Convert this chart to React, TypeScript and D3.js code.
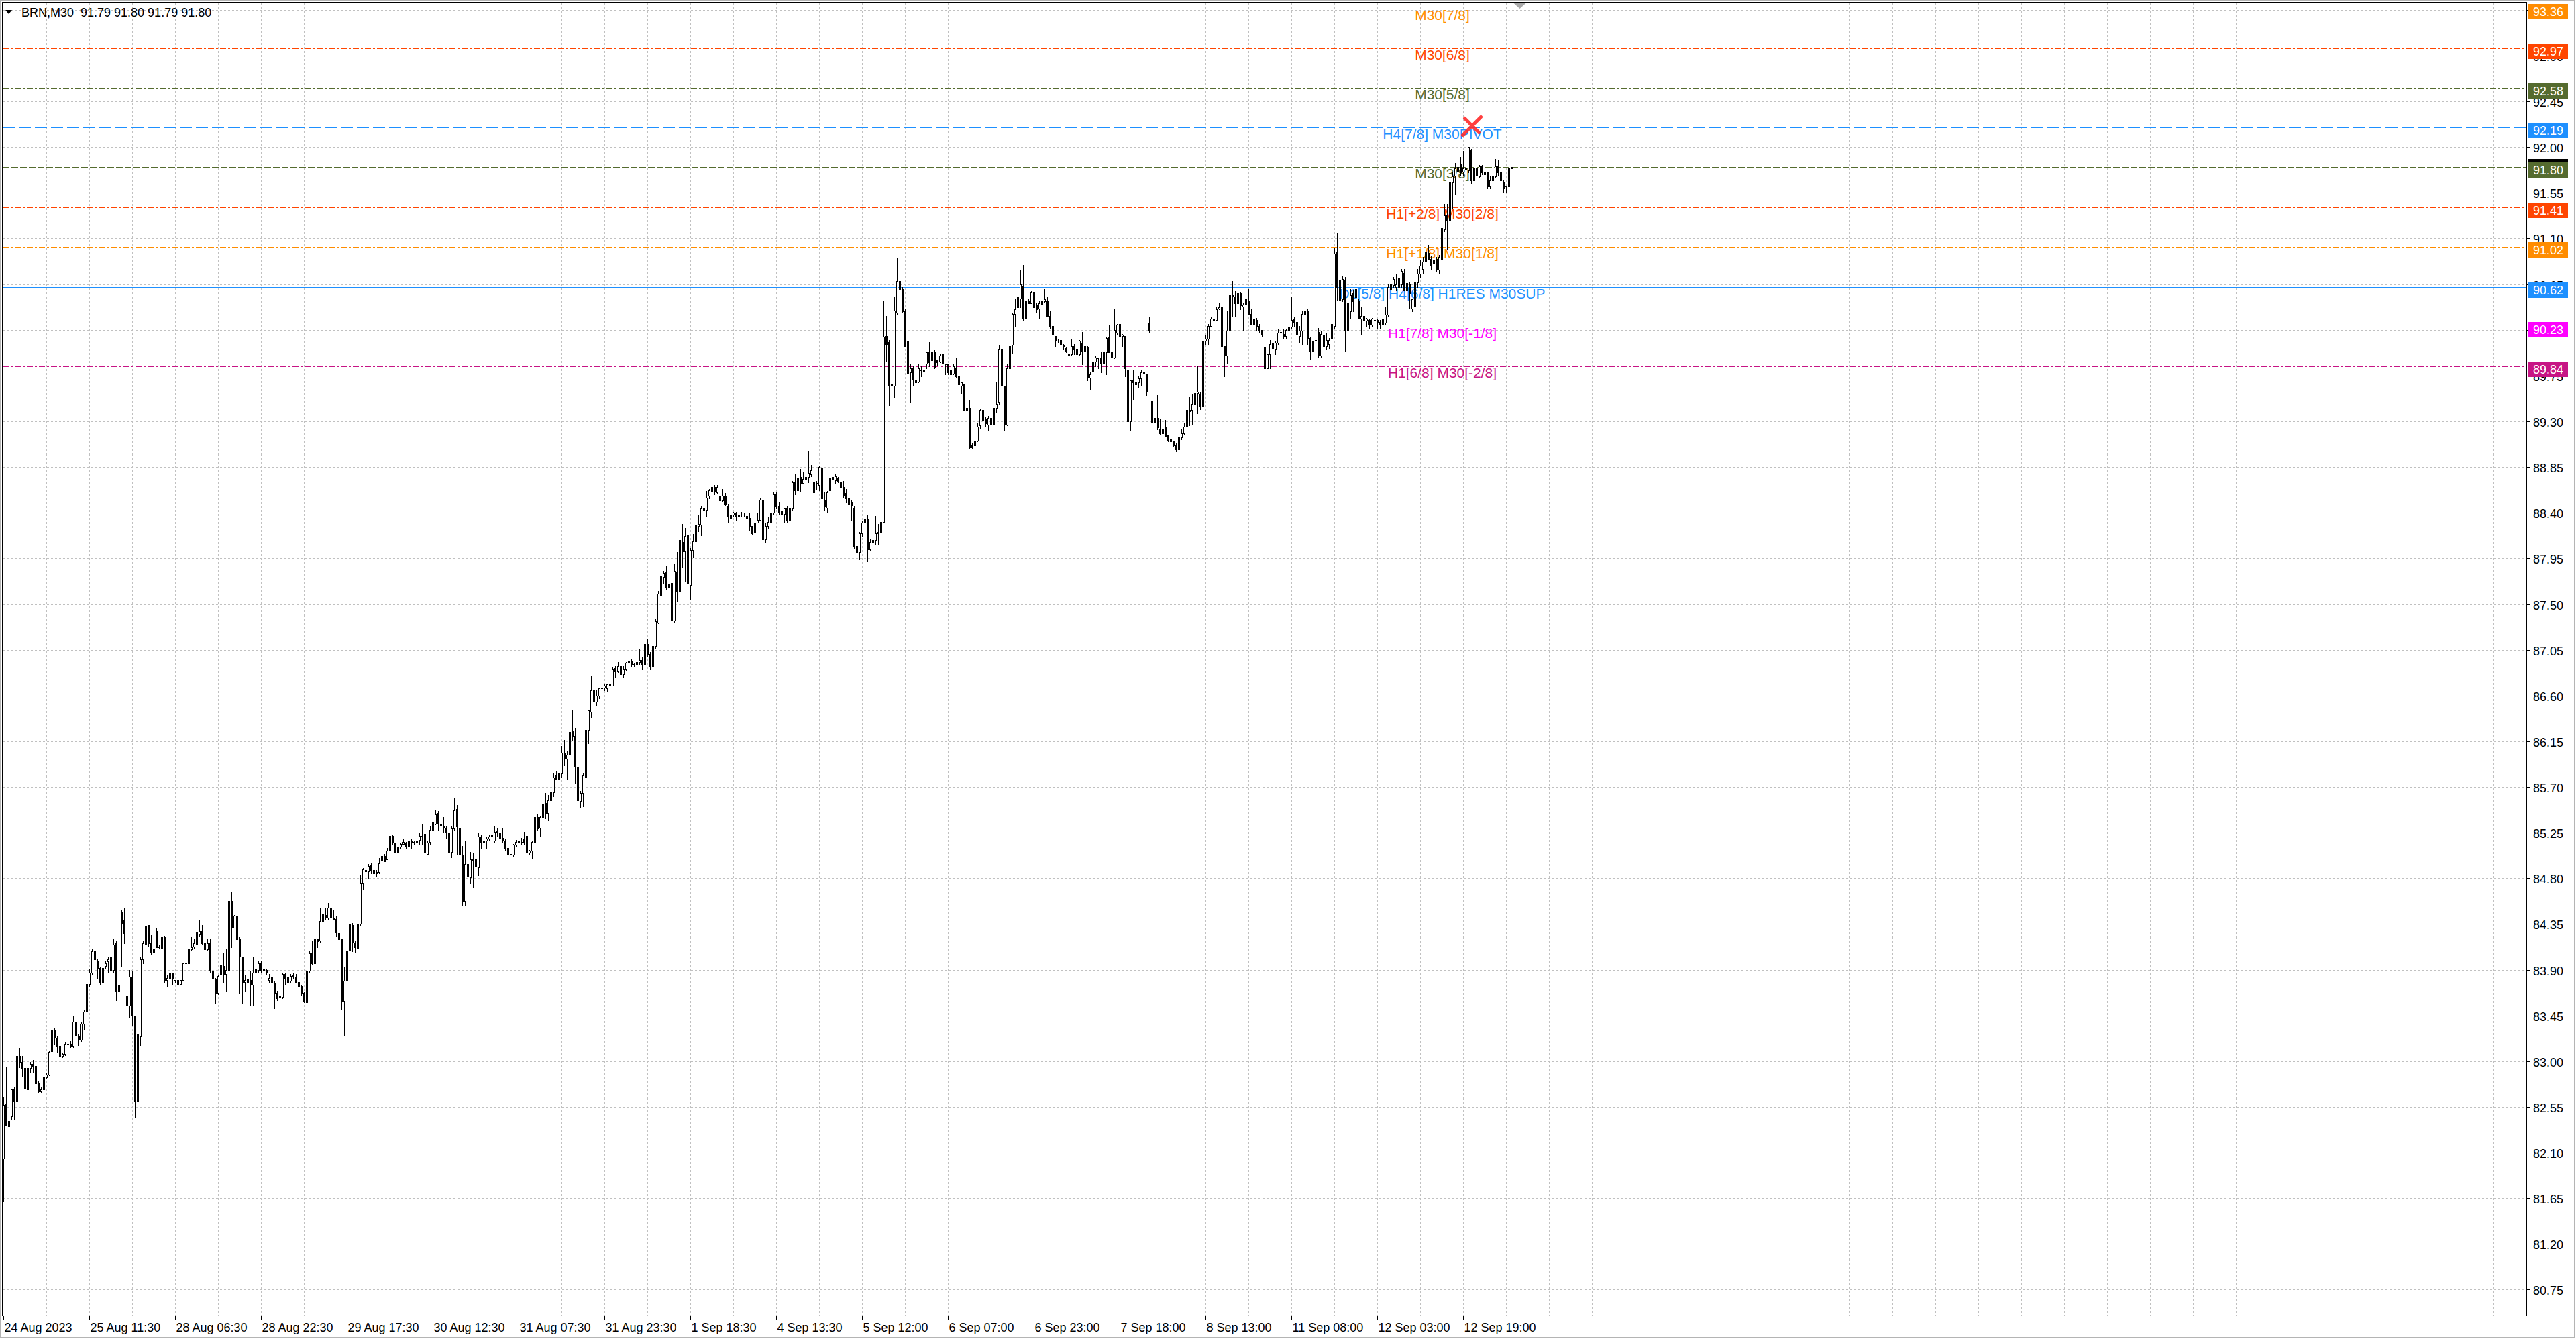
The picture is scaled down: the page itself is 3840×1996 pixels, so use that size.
import React from "react";
import * as d3 from "d3";

const W = 3840;
const H = 1996;
const frame = { left: 3.5, top: 3.5, right: 3766.5, bottom: 1961.5 };

// BRN M30 bars, bar 0 = 24 Aug 2023
const barOpen = [
  82.04, 82.58, 82.36, 82.46, 82.73, 82.60, 83.05, 82.99, 82.93, 82.72,
  82.93, 82.97, 82.95, 82.78, 82.70, 82.72, 82.84, 82.87, 83.10, 83.31,
  83.23, 83.15, 83.05, 83.07, 83.17, 83.17, 83.15, 83.39, 83.25, 83.21,
  83.37, 83.49, 83.76, 83.87, 84.08, 83.99, 83.92, 83.77, 83.94, 83.98,
  84.02, 83.90, 84.16, 83.69, 84.47, 84.39, 83.64, 83.55, 83.83, 83.45,
  82.60, 83.24, 84.00, 84.15, 84.34, 84.16, 84.07, 84.28, 84.12, 84.11,
  84.22, 83.80, 83.82, 83.87, 83.80, 83.80, 83.76, 83.80, 83.96, 83.96,
  84.10, 84.13, 84.15, 84.25, 84.28, 84.16, 84.10, 84.16, 83.89, 83.81,
  83.67, 83.85, 83.94, 83.86, 83.89, 84.58, 84.31, 84.43, 84.20, 84.03,
  83.78, 83.78, 83.80, 83.75, 83.87, 83.90, 83.96, 83.89, 83.90, 83.80,
  83.83, 83.77, 83.67, 83.63, 83.63, 83.86, 83.83, 83.79, 83.85, 83.83,
  83.78, 83.74, 83.67, 83.58, 83.89, 84.06, 83.96, 84.20, 84.19, 84.38,
  84.44, 84.41, 84.51, 84.41, 84.40, 84.26, 84.20, 83.59, 83.80, 84.09,
  84.34, 84.17, 84.11, 84.35, 84.75, 84.88, 84.87, 84.93, 84.88, 84.86,
  84.86, 84.98, 85.02, 84.99, 85.07, 85.22, 85.15, 85.06, 85.11, 85.14,
  85.15, 85.12, 85.17, 85.15, 85.15, 85.18, 85.22, 85.24, 85.04, 85.16,
  85.28, 85.34, 85.44, 85.33, 85.31, 85.29, 85.25, 85.06, 85.29, 85.48,
  85.30, 85.03, 84.58, 84.94, 84.81, 84.98, 84.99, 84.91, 85.21, 85.15,
  85.17, 85.19, 85.22, 85.17, 85.27, 85.25, 85.20, 85.17, 85.10, 85.04,
  85.03, 85.13, 85.16, 85.15, 85.19, 85.22, 85.05, 85.07, 85.16, 85.40,
  85.30, 85.40, 85.54, 85.44, 85.57, 85.65, 85.81, 85.77, 85.83, 86.03,
  85.98, 86.02, 86.25, 86.20, 85.90, 85.56, 85.64, 85.80, 86.26, 86.44,
  86.66, 86.54, 86.60, 86.67, 86.68, 86.67, 86.71, 86.70, 86.87, 86.84,
  86.89, 86.81, 86.86, 86.93, 86.94, 86.90, 86.91, 86.93, 86.95, 86.90,
  87.11, 87.01, 86.88, 87.09, 87.32, 87.59, 87.77, 87.82, 87.66, 87.71,
  87.34, 87.82, 87.62, 88.11, 88.02, 88.18, 87.69, 88.03, 88.12, 88.27,
  88.28, 88.44, 88.43, 88.57, 88.61, 88.65, 88.60, 88.57, 88.52, 88.56,
  88.47, 88.35, 88.38, 88.40, 88.37, 88.38, 88.38, 88.37, 88.35, 88.27,
  88.21, 88.30, 88.33, 88.53, 88.14, 88.27, 88.31, 88.40, 88.58, 88.46,
  88.42, 88.39, 88.44, 88.33, 88.44, 88.70, 88.62, 88.75, 88.69, 88.73,
  88.75, 88.78, 88.60, 88.69, 88.67, 88.84, 88.53, 88.45, 88.62, 88.75,
  88.72, 88.74, 88.70, 88.65, 88.59, 88.54, 88.50, 88.45, 88.07, 88.01,
  88.20, 88.30, 88.34, 88.04, 88.11, 88.13, 88.20, 88.21, 88.31, 90.14,
  90.08, 89.67, 89.65, 90.37, 90.68, 90.60, 90.38, 90.09, 89.78, 89.82,
  89.71, 89.69, 89.80, 89.81, 89.87, 89.98, 89.90, 89.99, 89.90, 89.89,
  89.96, 89.87, 89.86, 89.80, 89.77, 89.83, 89.74, 89.65, 89.67, 89.43,
  89.43, 89.07, 89.06, 89.11, 89.26, 89.41, 89.32, 89.27, 89.33, 89.27,
  89.43, 89.49, 90.01, 89.65, 89.27, 89.82, 90.05, 90.36, 90.42, 90.51,
  90.63, 90.31, 90.48, 90.46, 90.57, 90.44, 90.41, 90.45, 90.48, 90.49,
  90.34, 90.24, 90.14, 90.09, 90.10, 90.05, 90.02, 89.97, 89.96, 90.04,
  90.01, 89.96, 90.07, 89.99, 90.03, 89.73, 89.79, 89.89, 89.92, 89.92,
  89.87, 89.98, 90.13, 89.98, 89.93, 90.17, 90.26, 90.14, 90.14, 89.80,
  89.30, 89.71, 89.68, 89.68, 89.72, 89.79, 89.77, 90.27, 89.50, 89.29,
  89.33, 89.22, 89.18, 89.24, 89.16, 89.12, 89.10, 89.07, 89.02, 89.14,
  89.18, 89.25, 89.40, 89.41, 89.47, 89.58, 89.57, 89.45, 90.09, 90.11,
  90.24, 90.31, 90.30, 90.41, 90.42, 90.04, 89.95, 90.20, 90.54, 90.52,
  90.46, 90.56, 90.43, 90.45, 90.49, 90.36, 90.26, 90.30, 90.24, 90.20,
  90.03, 89.82, 89.96, 90.07, 90.01, 90.07, 90.18, 90.16, 90.14, 90.20,
  90.23, 90.31, 90.28, 90.14, 90.19, 90.36, 90.39, 90.12, 89.99, 90.09,
  90.18, 89.95, 90.15, 90.04, 90.06, 90.11, 90.24, 90.97, 90.69, 90.50,
  90.69, 90.19, 90.38, 90.56, 90.52, 90.48, 90.31, 90.34, 90.29, 90.30,
  90.25, 90.30, 90.30, 90.28, 90.26, 90.27, 90.35, 90.60, 90.64, 90.62,
  90.71, 90.65, 90.76, 90.66, 90.65, 90.41, 90.43, 90.67, 90.75, 90.80,
  90.87, 90.96, 90.90, 90.86, 90.90, 90.79, 90.89, 91.19, 91.33, 91.28,
  91.65, 91.72, 91.80, 91.83, 91.76, 91.78, 91.77, 91.97, 91.79, 91.72,
  91.71, 91.81, 91.76, 91.75, 91.61, 91.67, 91.71, 91.81, 91.75, 91.65,
  91.61, 91.61, 91.79,
];

const barHigh = [
  82.65, 82.94, 82.87, 82.73, 82.75, 83.11, 83.13, 83.05, 82.99, 82.94,
  82.99, 83.01, 82.96, 82.80, 82.74, 82.85, 82.88, 83.10, 83.34, 83.33,
  83.24, 83.15, 83.08, 83.19, 83.19, 83.20, 83.44, 83.42, 83.26, 83.38,
  83.51, 83.77, 83.91, 84.10, 84.10, 84.00, 83.93, 83.93, 83.98, 84.03,
  84.03, 84.21, 84.19, 84.06, 84.49, 84.51, 83.67, 83.90, 83.89, 83.45,
  83.27, 84.02, 84.18, 84.41, 84.34, 84.24, 84.13, 84.31, 84.14, 84.22,
  84.23, 83.85, 83.88, 83.87, 83.80, 83.80, 83.80, 83.97, 84.09, 84.11,
  84.22, 84.20, 84.28, 84.39, 84.34, 84.19, 84.20, 84.20, 83.92, 83.82,
  83.85, 83.97, 84.06, 84.11, 84.69, 84.67, 84.44, 84.45, 84.22, 84.03,
  83.85, 83.96, 83.89, 84.02, 83.92, 83.99, 83.98, 83.92, 83.91, 83.86,
  83.84, 83.79, 83.69, 83.67, 83.87, 83.87, 83.85, 83.86, 83.87, 83.86,
  83.82, 83.75, 83.68, 83.90, 84.08, 84.18, 84.30, 84.20, 84.51, 84.47,
  84.51, 84.56, 84.56, 84.49, 84.43, 84.27, 84.20, 83.93, 84.13, 84.40,
  84.36, 84.18, 84.36, 84.83, 84.90, 84.90, 84.94, 84.95, 84.92, 84.88,
  85.00, 85.05, 85.04, 85.10, 85.23, 85.23, 85.15, 85.12, 85.15, 85.19,
  85.16, 85.18, 85.19, 85.17, 85.26, 85.25, 85.33, 85.26, 85.17, 85.32,
  85.36, 85.47, 85.46, 85.40, 85.40, 85.32, 85.26, 85.31, 85.59, 85.52,
  85.62, 85.12, 85.17, 84.97, 85.06, 85.05, 85.02, 85.25, 85.23, 85.20,
  85.21, 85.23, 85.23, 85.31, 85.29, 85.29, 85.30, 85.19, 85.13, 85.05,
  85.14, 85.18, 85.22, 85.20, 85.26, 85.27, 85.08, 85.17, 85.41, 85.43,
  85.41, 85.59, 85.64, 85.62, 85.71, 85.83, 85.86, 85.91, 86.10, 86.16,
  86.05, 86.26, 86.46, 86.28, 85.91, 85.66, 85.83, 86.28, 86.46, 86.79,
  86.71, 86.65, 86.68, 86.78, 86.71, 86.72, 86.78, 86.88, 86.89, 86.93,
  86.92, 86.89, 86.93, 86.96, 86.96, 86.92, 86.97, 87.06, 86.98, 87.16,
  87.16, 87.03, 87.21, 87.35, 87.63, 87.80, 87.83, 87.88, 87.72, 87.79,
  87.90, 88.01, 88.17, 88.29, 88.25, 88.19, 88.05, 88.19, 88.30, 88.38,
  88.46, 88.48, 88.61, 88.63, 88.68, 88.67, 88.67, 88.58, 88.63, 88.59,
  88.49, 88.44, 88.41, 88.41, 88.39, 88.41, 88.40, 88.43, 88.40, 88.27,
  88.32, 88.40, 88.54, 88.54, 88.30, 88.36, 88.49, 88.60, 88.60, 88.50,
  88.44, 88.44, 88.47, 88.50, 88.71, 88.78, 88.79, 88.83, 88.80, 88.81,
  89.01, 88.87, 88.71, 88.71, 88.86, 88.87, 88.60, 88.61, 88.76, 88.77,
  88.78, 88.75, 88.71, 88.71, 88.63, 88.56, 88.53, 88.47, 88.10, 88.21,
  88.32, 88.40, 88.38, 88.14, 88.20, 88.37, 88.29, 88.40, 90.48, 90.34,
  90.10, 89.69, 90.53, 90.91, 90.78, 90.62, 90.40, 90.10, 89.86, 89.84,
  89.73, 89.86, 89.84, 89.82, 89.99, 90.08, 90.07, 90.00, 89.91, 89.96,
  89.97, 89.87, 89.86, 89.80, 89.87, 89.93, 89.74, 89.68, 89.67, 89.43,
  89.51, 89.08, 89.14, 89.29, 89.42, 89.49, 89.34, 89.35, 89.58, 89.44,
  89.69, 90.05, 90.03, 89.65, 89.87, 90.10, 90.37, 90.50, 90.71, 90.79,
  90.84, 90.50, 90.50, 90.58, 90.58, 90.47, 90.48, 90.50, 90.60, 90.53,
  90.38, 90.25, 90.14, 90.11, 90.10, 90.06, 90.03, 90.00, 90.11, 90.06,
  90.21, 90.10, 90.18, 90.18, 90.04, 89.79, 89.99, 89.95, 89.93, 89.98,
  90.00, 90.13, 90.25, 90.41, 90.40, 90.26, 90.43, 90.16, 90.14, 89.82,
  89.71, 89.81, 89.87, 89.75, 89.81, 89.82, 89.77, 90.33, 89.51, 89.42,
  89.56, 89.32, 89.27, 89.31, 89.17, 89.13, 89.10, 89.08, 89.15, 89.22,
  89.28, 89.45, 89.54, 89.57, 89.63, 89.84, 89.59, 90.10, 90.15, 90.26,
  90.33, 90.43, 90.43, 90.47, 90.47, 90.04, 90.39, 90.67, 90.68, 90.58,
  90.71, 90.57, 90.47, 90.51, 90.60, 90.40, 90.33, 90.32, 90.26, 90.20,
  90.05, 89.97, 90.10, 90.09, 90.09, 90.21, 90.21, 90.21, 90.21, 90.25,
  90.52, 90.33, 90.31, 90.24, 90.38, 90.50, 90.41, 90.13, 90.10, 90.22,
  90.22, 90.19, 90.21, 90.17, 90.12, 90.36, 91.01, 91.15, 90.83, 90.73,
  90.72, 90.49, 90.60, 90.59, 90.65, 90.50, 90.43, 90.38, 90.32, 90.31,
  90.32, 90.32, 90.31, 90.30, 90.33, 90.43, 90.65, 90.67, 90.72, 90.75,
  90.72, 90.80, 90.80, 90.66, 90.67, 90.51, 90.75, 90.80, 90.89, 90.92,
  91.04, 91.04, 90.93, 90.97, 90.92, 90.94, 91.31, 91.44, 91.44, 91.93,
  91.75, 91.84, 91.98, 91.90, 91.96, 91.83, 92.00, 91.98, 91.83, 91.81,
  91.82, 91.82, 91.77, 91.75, 91.71, 91.72, 91.88, 91.87, 91.77, 91.67,
  91.62, 91.82, 91.80,
];

const barLow = [
  81.62, 82.37, 82.30, 82.43, 82.43, 82.59, 82.94, 82.85, 82.56, 82.60,
  82.89, 82.89, 82.77, 82.69, 82.69, 82.71, 82.83, 82.86, 83.05, 83.17,
  83.09, 83.04, 83.04, 83.06, 83.15, 83.14, 83.14, 83.22, 83.16, 83.19,
  83.31, 83.48, 83.74, 83.85, 83.99, 83.81, 83.76, 83.71, 83.92, 83.88,
  83.78, 83.87, 83.60, 83.34, 83.93, 84.16, 83.28, 83.43, 83.35, 82.45,
  82.23, 83.16, 83.96, 84.12, 84.13, 84.05, 83.99, 84.12, 84.11, 83.96,
  83.78, 83.74, 83.76, 83.76, 83.78, 83.75, 83.75, 83.79, 83.95, 83.96,
  84.09, 84.11, 84.09, 84.23, 84.15, 84.04, 84.09, 83.87, 83.76, 83.57,
  83.66, 83.73, 83.78, 83.69, 83.80, 84.12, 84.31, 84.19, 83.67, 83.57,
  83.69, 83.69, 83.55, 83.55, 83.85, 83.88, 83.88, 83.88, 83.86, 83.77,
  83.74, 83.52, 83.60, 83.57, 83.62, 83.75, 83.77, 83.78, 83.81, 83.77,
  83.70, 83.65, 83.58, 83.57, 83.88, 83.95, 83.95, 84.12, 84.17, 84.35,
  84.40, 84.40, 84.30, 84.39, 84.23, 84.19, 83.51, 83.25, 83.79, 84.06,
  84.08, 84.07, 84.11, 84.34, 84.69, 84.63, 84.80, 84.85, 84.82, 84.82,
  84.85, 84.94, 84.97, 84.99, 85.06, 85.14, 85.05, 85.06, 85.10, 85.13,
  85.10, 85.10, 85.10, 85.14, 85.14, 85.14, 85.14, 84.78, 85.03, 85.13,
  85.25, 85.33, 85.27, 85.32, 85.26, 85.19, 85.05, 85.01, 85.28, 85.03,
  84.89, 84.54, 84.54, 84.54, 84.75, 84.71, 84.90, 84.83, 85.09, 85.09,
  85.09, 85.18, 85.21, 85.16, 85.21, 85.19, 85.15, 85.07, 85.00, 85.00,
  85.02, 85.12, 85.14, 85.13, 85.14, 85.05, 85.04, 85.00, 85.16, 85.28,
  85.21, 85.39, 85.39, 85.37, 85.54, 85.61, 85.77, 85.71, 85.79, 85.91,
  85.77, 85.94, 86.16, 85.73, 85.37, 85.50, 85.51, 85.77, 86.13, 86.38,
  86.50, 86.50, 86.57, 86.66, 86.65, 86.64, 86.69, 86.70, 86.78, 86.83,
  86.78, 86.78, 86.85, 86.92, 86.88, 86.89, 86.88, 86.91, 86.86, 86.89,
  86.99, 86.86, 86.81, 87.06, 87.31, 87.56, 87.70, 87.65, 87.55, 87.25,
  87.32, 87.53, 87.61, 87.86, 87.72, 87.55, 87.55, 87.96, 88.10, 88.22,
  88.18, 88.21, 88.37, 88.54, 88.60, 88.58, 88.59, 88.46, 88.51, 88.47,
  88.30, 88.32, 88.37, 88.32, 88.36, 88.36, 88.37, 88.33, 88.23, 88.19,
  88.21, 88.30, 88.32, 88.12, 88.11, 88.24, 88.30, 88.39, 88.44, 88.39,
  88.37, 88.30, 88.30, 88.28, 88.43, 88.58, 88.58, 88.61, 88.69, 88.61,
  88.70, 88.76, 88.59, 88.63, 88.62, 88.47, 88.43, 88.41, 88.58, 88.70,
  88.69, 88.70, 88.61, 88.55, 88.50, 88.47, 88.32, 88.05, 87.87, 87.94,
  88.17, 88.28, 87.92, 88.03, 88.09, 88.09, 88.09, 88.13, 88.30, 89.89,
  89.46, 89.25, 89.53, 90.36, 90.38, 90.37, 90.03, 89.74, 89.49, 89.65,
  89.61, 89.68, 89.74, 89.79, 89.82, 89.84, 89.89, 89.82, 89.85, 89.88,
  89.86, 89.76, 89.76, 89.76, 89.76, 89.73, 89.60, 89.58, 89.41, 89.40,
  89.03, 89.03, 89.03, 89.10, 89.23, 89.28, 89.25, 89.21, 89.24, 89.21,
  89.39, 89.47, 89.60, 89.21, 89.26, 89.81, 89.97, 90.23, 90.30, 90.42,
  90.30, 90.30, 90.46, 90.46, 90.38, 90.37, 90.32, 90.40, 90.47, 90.33,
  90.22, 90.14, 90.03, 90.08, 90.04, 90.01, 89.98, 89.89, 89.95, 89.96,
  89.92, 89.95, 89.86, 89.92, 89.70, 89.62, 89.76, 89.84, 89.82, 89.78,
  89.78, 89.76, 89.98, 89.91, 89.92, 90.16, 89.98, 90.03, 89.74, 89.23,
  89.21, 89.51, 89.60, 89.63, 89.65, 89.77, 89.55, 90.17, 89.25, 89.23,
  89.22, 89.17, 89.16, 89.15, 89.10, 89.10, 89.05, 89.00, 89.00, 89.12,
  89.17, 89.24, 89.26, 89.27, 89.39, 89.38, 89.42, 89.43, 90.05, 90.05,
  90.23, 90.30, 90.29, 90.40, 89.95, 89.74, 89.87, 90.19, 90.34, 90.34,
  90.40, 90.40, 90.19, 90.19, 90.35, 90.25, 90.25, 90.20, 90.18, 90.13,
  89.81, 89.82, 89.82, 89.96, 89.96, 90.06, 90.14, 90.12, 90.12, 90.15,
  90.22, 90.24, 90.14, 90.08, 90.05, 90.36, 90.05, 89.91, 89.95, 89.98,
  89.93, 89.93, 89.97, 90.01, 90.02, 90.10, 90.21, 90.49, 90.43, 90.48,
  89.99, 89.99, 90.31, 90.38, 90.44, 90.31, 90.15, 90.24, 90.24, 90.21,
  90.24, 90.26, 90.22, 90.21, 90.25, 90.26, 90.33, 90.56, 90.62, 90.59,
  90.60, 90.62, 90.59, 90.50, 90.41, 90.38, 90.38, 90.62, 90.72, 90.75,
  90.77, 90.89, 90.80, 90.84, 90.77, 90.75, 90.88, 91.17, 90.99, 91.27,
  91.40, 91.53, 91.72, 91.72, 91.72, 91.75, 91.75, 91.64, 91.64, 91.70,
  91.70, 91.73, 91.72, 91.60, 91.60, 91.64, 91.70, 91.72, 91.66, 91.56,
  91.55, 91.60, 91.79,
];

const barClose = [
  82.57, 82.37, 82.41, 82.72, 82.61, 83.05, 82.99, 82.93, 82.73, 82.93,
  82.97, 82.95, 82.78, 82.70, 82.72, 82.84, 82.87, 83.09, 83.30, 83.23,
  83.15, 83.05, 83.07, 83.17, 83.17, 83.15, 83.39, 83.25, 83.21, 83.37,
  83.49, 83.76, 83.87, 84.08, 84.00, 83.92, 83.78, 83.92, 83.96, 84.00,
  83.90, 84.15, 83.69, 83.75, 84.35, 84.26, 83.55, 83.83, 83.45, 82.60,
  83.26, 84.00, 84.16, 84.33, 84.16, 84.07, 84.11, 84.12, 84.13, 84.22,
  83.80, 83.82, 83.87, 83.81, 83.79, 83.76, 83.80, 83.96, 83.97, 84.10,
  84.12, 84.16, 84.27, 84.28, 84.16, 84.10, 84.16, 83.90, 83.81, 83.67,
  83.84, 83.95, 83.85, 83.90, 84.58, 84.31, 84.43, 84.20, 84.03, 83.77,
  83.80, 83.81, 83.75, 83.87, 83.91, 83.96, 83.89, 83.91, 83.88, 83.82,
  83.78, 83.67, 83.62, 83.64, 83.86, 83.82, 83.78, 83.84, 83.83, 83.78,
  83.74, 83.67, 83.59, 83.89, 84.06, 83.96, 84.20, 84.18, 84.38, 84.45,
  84.41, 84.51, 84.41, 84.40, 84.27, 84.20, 83.59, 83.79, 84.08, 84.35,
  84.17, 84.12, 84.35, 84.75, 84.89, 84.87, 84.92, 84.88, 84.85, 84.85,
  84.95, 85.02, 84.97, 85.07, 85.22, 85.15, 85.06, 85.11, 85.14, 85.16,
  85.12, 85.17, 85.15, 85.16, 85.17, 85.22, 85.22, 85.05, 85.15, 85.28,
  85.35, 85.43, 85.34, 85.32, 85.30, 85.25, 85.06, 85.29, 85.47, 85.31,
  85.03, 84.58, 84.94, 84.82, 84.99, 84.99, 84.92, 85.21, 85.15, 85.17,
  85.19, 85.21, 85.23, 85.26, 85.25, 85.20, 85.17, 85.10, 85.04, 85.04,
  85.13, 85.16, 85.17, 85.16, 85.15, 85.05, 85.07, 85.16, 85.40, 85.29,
  85.40, 85.53, 85.44, 85.57, 85.65, 85.79, 85.78, 85.84, 86.04, 85.98,
  86.02, 86.24, 86.20, 85.90, 85.57, 85.64, 85.81, 86.26, 86.45, 86.65,
  86.54, 86.60, 86.67, 86.68, 86.70, 86.71, 86.70, 86.86, 86.84, 86.89,
  86.81, 86.86, 86.92, 86.94, 86.90, 86.91, 86.93, 86.95, 86.90, 87.11,
  87.01, 86.88, 87.09, 87.33, 87.60, 87.78, 87.81, 87.67, 87.70, 87.34,
  87.83, 87.62, 88.13, 88.02, 88.17, 87.70, 88.03, 88.12, 88.28, 88.29,
  88.44, 88.43, 88.55, 88.62, 88.65, 88.61, 88.65, 88.52, 88.57, 88.48,
  88.36, 88.38, 88.40, 88.36, 88.38, 88.38, 88.38, 88.35, 88.27, 88.20,
  88.30, 88.33, 88.53, 88.14, 88.27, 88.31, 88.40, 88.58, 88.46, 88.41,
  88.39, 88.44, 88.32, 88.44, 88.70, 88.62, 88.74, 88.69, 88.73, 88.75,
  88.79, 88.82, 88.70, 88.69, 88.85, 88.54, 88.46, 88.60, 88.74, 88.73,
  88.76, 88.71, 88.65, 88.57, 88.54, 88.48, 88.47, 88.07, 88.01, 88.20,
  88.30, 88.34, 88.04, 88.11, 88.13, 88.20, 88.21, 88.31, 90.13, 90.06,
  89.65, 89.65, 90.39, 90.68, 90.60, 90.38, 90.04, 89.77, 89.82, 89.71,
  89.68, 89.82, 89.81, 89.79, 89.98, 89.88, 89.98, 89.83, 89.88, 89.95,
  89.87, 89.86, 89.78, 89.76, 89.84, 89.74, 89.66, 89.68, 89.41, 89.41,
  89.04, 89.04, 89.10, 89.25, 89.41, 89.31, 89.28, 89.33, 89.27, 89.43,
  89.47, 90.01, 89.65, 89.27, 89.82, 90.04, 90.36, 90.40, 90.52, 90.65,
  90.32, 90.48, 90.46, 90.57, 90.42, 90.40, 90.46, 90.48, 90.50, 90.34,
  90.24, 90.15, 90.09, 90.09, 90.05, 90.03, 89.99, 89.95, 90.04, 90.01,
  89.96, 90.09, 89.99, 90.04, 89.73, 89.76, 89.89, 89.93, 89.92, 89.87,
  89.98, 90.12, 89.98, 89.93, 90.20, 90.25, 90.13, 90.15, 89.82, 89.30,
  89.70, 89.68, 89.66, 89.72, 89.78, 89.77, 89.59, 90.20, 89.29, 89.33,
  89.24, 89.18, 89.22, 89.15, 89.11, 89.10, 89.06, 89.02, 89.14, 89.18,
  89.25, 89.41, 89.41, 89.47, 89.58, 89.59, 89.45, 90.09, 90.11, 90.24,
  90.31, 90.30, 90.40, 90.42, 90.03, 89.95, 90.19, 90.54, 90.53, 90.46,
  90.56, 90.44, 90.45, 90.50, 90.36, 90.26, 90.31, 90.24, 90.19, 90.15,
  89.82, 89.96, 90.06, 90.02, 90.07, 90.17, 90.17, 90.14, 90.20, 90.23,
  90.30, 90.28, 90.15, 90.19, 90.36, 90.39, 90.11, 89.99, 90.09, 90.10,
  89.95, 90.16, 90.04, 90.10, 90.10, 90.26, 90.95, 90.62, 90.49, 90.70,
  90.19, 90.47, 90.54, 90.48, 90.60, 90.32, 90.34, 90.30, 90.31, 90.25,
  90.31, 90.30, 90.27, 90.25, 90.31, 90.35, 90.62, 90.65, 90.70, 90.65,
  90.62, 90.78, 90.59, 90.59, 90.56, 90.50, 90.67, 90.75, 90.83, 90.87,
  90.97, 90.90, 90.84, 90.89, 90.79, 90.92, 91.20, 91.33, 91.28, 91.65,
  91.71, 91.79, 91.76, 91.75, 91.79, 91.79, 92.00, 91.67, 91.67, 91.79,
  91.81, 91.75, 91.73, 91.61, 91.67, 91.71, 91.81, 91.75, 91.67, 91.60,
  91.61, 91.79, 91.80,
];

const timeLabels = [
  "24 Aug 2023", "25 Aug 11:30", "28 Aug 06:30", "28 Aug 22:30", "29 Aug 17:30",
  "30 Aug 12:30", "31 Aug 07:30", "31 Aug 23:30", "1 Sep 18:30", "4 Sep 13:30",
  "5 Sep 12:00", "6 Sep 07:00", "6 Sep 23:00", "7 Sep 18:00", "8 Sep 13:00",
  "11 Sep 08:00", "12 Sep 03:00", "12 Sep 19:00",
];
const BARS_PER_LABEL = 32;
const BARS_PER_GRID = 16;

const priceTicks = [
  80.75, 81.2, 81.65, 82.1, 82.55, 83.0, 83.45, 83.9, 84.35, 84.8,
  85.25, 85.7, 86.15, 86.6, 87.05, 87.5, 87.95, 88.4, 88.85, 89.3,
  89.75, 90.2, 90.65, 91.1, 91.55, 92.0, 92.45, 92.9, 93.35,
];

// Murrey-math style levels drawn by the indicator
const levelPrices = [93.36, 92.97, 92.58, 92.19, 91.8, 91.41, 91.02, 90.62, 90.23, 89.84];
const levelNames = [
  "M30[7/8]", "M30[6/8]", "M30[5/8]", "H4[7/8] M30PIVOT", "M30[3/8]",
  "H1[+2/8] M30[2/8]", "H1[+1/8] M30[1/8]", "D1[5/8] H4[6/8] H1RES M30SUP",
  "H1[7/8] M30[-1/8]", "H1[6/8] M30[-2/8]",
];
const levelColors = [
  "#ff8c00", "#ff4500", "#556b2f", "#1e90ff", "#556b2f",
  "#ff4500", "#ff8c00", "#1e90ff", "#ff00ff", "#c71585",
];
const levelDash = [
  "9,3,3,3", "9,3,3,3", "9,3,3,3", "18,6", "10,3",
  "9,3,3,3", "9,3,3,3", "", "9,3,3,3", "9,3,3,3",
];

const header = "BRN,M30  91.79 91.80 91.79 91.80";
const markerBar = 547;
const markerPrice = 92.21;

const FONT = "'Liberation Sans', Arial, sans-serif";

export default function App() {
  const n = barClose.length;
  const x = d3.scaleLinear().domain([0, 1]).range([5.5, 9.5]);
  const y = d3.scaleLinear().domain([84.8, 92.0]).range([1309.3, 219.2]);
  const py = (p: number) => Math.round(y(p));

  const gridXs = d3.range(1, Math.floor((frame.right - 5.5) / (4 * BARS_PER_GRID)) + 1)
    .map((k) => x(k * BARS_PER_GRID));

  const bid = barClose[n - 1];
  const mx = x(markerBar);
  const my = y(markerPrice);

  return (
    <svg
      width={W}
      height={H}
      viewBox={`0 0 ${W} ${H}`}
      style={{ position: "absolute", left: 0, top: 0, display: "block", background: "#fff" }}
      fontFamily={FONT}
    >
      <rect x={0} y={0} width={W} height={H} fill="#fff" />
      <rect x={0.5} y={0.5} width={W - 3} height={H - 3} fill="none" stroke="#b4b4b4" />

      {/* grid */}
      <g shapeRendering="crispEdges" stroke="#c0c0c0" strokeDasharray="3,3">
        {priceTicks.map((p) => (
          <line key={"h" + p} x1={frame.left} x2={frame.right} y1={py(p) + 0.5} y2={py(p) + 0.5} />
        ))}
        {gridXs.map((gx) => (
          <line key={"v" + gx} x1={gx} x2={gx} y1={frame.top} y2={frame.bottom} />
        ))}
      </g>

      {/* level lines */}
      <g shapeRendering="crispEdges">
        {levelPrices.map((p, i) => (
          <line
            key={"l" + i}
            x1={frame.left}
            x2={frame.right}
            y1={py(p) + 0.5}
            y2={py(p) + 0.5}
            stroke={levelColors[i]}
            strokeDasharray={levelDash[i] || undefined}
          />
        ))}
      </g>

      {/* level captions */}
      <g fontSize={21} textAnchor="middle">
        {levelPrices.map((p, i) => (
          <text key={"t" + i} x={2150} y={py(p) + 17} fill={levelColors[i]} style={{ whiteSpace: "pre" }}>
            {levelNames[i]}
          </text>
        ))}
      </g>

      {/* candles */}
      <g shapeRendering="crispEdges">
        {barClose.map((c, i) => {
          const o = barOpen[i];
          const cx = x(i);
          const yH = py(barHigh[i]);
          const yL = py(barLow[i]);
          const yO = py(o);
          const yC = py(c);
          const top = Math.min(yO, yC);
          const bot = Math.max(yO, yC);
          const up = c >= o;
          return (
            <g key={"c" + i}>
              <line x1={cx} x2={cx} y1={yH} y2={yL + 1} stroke="#000" />
              {up ? (
                <rect x={cx - 1} y={top + 0.5} width={2} height={Math.max(bot - top, 0.01)} fill="#fff" stroke="#000" />
              ) : (
                <rect x={cx - 1.5} y={top} width={3} height={bot - top + 1} fill="#000" />
              )}
            </g>
          );
        })}
      </g>

      {/* pivot cross */}
      <g stroke="#ff2b2b" strokeWidth={5} strokeLinecap="round" opacity={0.9}>
        <line x1={mx - 13} y1={my + 14} x2={mx + 14} y2={my - 13} />
        <line x1={mx - 10} y1={my - 11} x2={mx + 11} y2={my + 10} />
      </g>

      {/* frame */}
      <rect
        x={frame.left}
        y={frame.top}
        width={frame.right - frame.left}
        height={frame.bottom - frame.top}
        fill="none"
        stroke="#000"
        shapeRendering="crispEdges"
      />

      {/* price axis */}
      <g fontSize={18} fill="#000">
        {priceTicks.map((p) => (
          <g key={"pt" + p}>
            <line x1={frame.right} x2={frame.right + 5} y1={py(p) + 0.5} y2={py(p) + 0.5} stroke="#000" shapeRendering="crispEdges" />
            <text x={3776} y={py(p) + 8}>{p.toFixed(2)}</text>
          </g>
        ))}
      </g>

      {/* time axis */}
      <g fontSize={18} fill="#000">
        {timeLabels.map((t, k) => {
          const tx = x(k * BARS_PER_LABEL);
          return (
            <g key={"tl" + k}>
              <line x1={tx} x2={tx} y1={frame.bottom} y2={frame.bottom + 6} stroke="#000" shapeRendering="crispEdges" />
              <text x={tx + 1} y={1985}>{t}</text>
            </g>
          );
        })}
      </g>

      {/* price boxes (bid box behind the 91.80 level box) */}
      <rect x={3768} y={py(bid) - 12} width={60} height={23} fill="#000" />
      <g fontSize={18}>
        {levelPrices.map((p, i) => (
          <g key={"pb" + i}>
            <rect x={3768} y={py(p) - 7} width={60} height={23} fill={levelColors[i]} />
            <text x={3776} y={py(p) + 11} fill="#fff">{p.toFixed(2)}</text>
          </g>
        ))}
      </g>

      {/* header */}
      <path d="M8,15 L18,15 L13,21 Z" fill="#000" />
      <text x={32} y={25} fontSize={18} fill="#000" style={{ whiteSpace: "pre" }}>
        {header}
      </text>

      {/* chart shift marker */}
      <path d={`M${x(n + 2) - 10},4 L${x(n + 2) + 10},4 L${x(n + 2)},13 Z`} fill="#a9a9a9" />
    </svg>
  );
}
